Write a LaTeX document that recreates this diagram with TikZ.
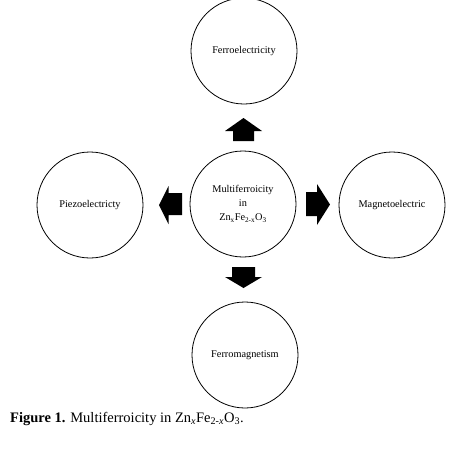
\documentclass[tikz,border=0pt]{standalone}
\usepackage{fontspec}
\setmainfont{Liberation Serif}
\begin{document}
\begin{tikzpicture}[x=1pt,y=-1pt,
  circ/.style={circle,draw,line width=0.8pt,minimum size=106pt,inner sep=0pt,
    font=\fontsize{10.3}{14}\selectfont,align=center},
  blk/.style={fill=black,draw=none}]
\useasboundingbox[fill=white] (0,0) rectangle (465,472);
\node[circ] (top) at (244,51) {Ferroelectricity};
\node[circ] (mid) at (243,204) {Multiferroicity\\in\\Zn\textsubscript{x}Fe\textsubscript{2-x}O\textsubscript{3}};
\node[circ] (lft) at (90,205) {Piezoelectricty};
\node[circ] (rgt) at (392,205) {Magnetoelectric};
\node[circ] (bot) at (245,355) {Ferromagnetism};
% block arrows
\fill[blk] (225,131)--(243.5,118)--(262,131)--(254,131)--(254,141)--(233,141)--(233,131)--cycle;
\fill[blk] (168.5,186)--(159,205)--(168.5,224)--(168.5,215)--(182,215)--(182,193)--(168.5,193)--cycle;
\fill[blk] (317,184)--(330,204.5)--(317,225)--(317,216)--(306,216)--(306,192)--(317,192)--cycle;
\fill[blk] (232,267)--(255,267)--(255,277)--(262,277)--(243.5,288)--(225,277)--(232,277)--cycle;
\node[anchor=base west,inner sep=0pt,font=\fontsize{14.5}{16}\selectfont] (cap) at (10,422)
  {\textbf{Figure 1.} Multiferroicity in Zn\textsubscript{\textit{x}}Fe\textsubscript{2-\textit{x}}O\textsubscript{3}.};
\end{tikzpicture}
\end{document}
